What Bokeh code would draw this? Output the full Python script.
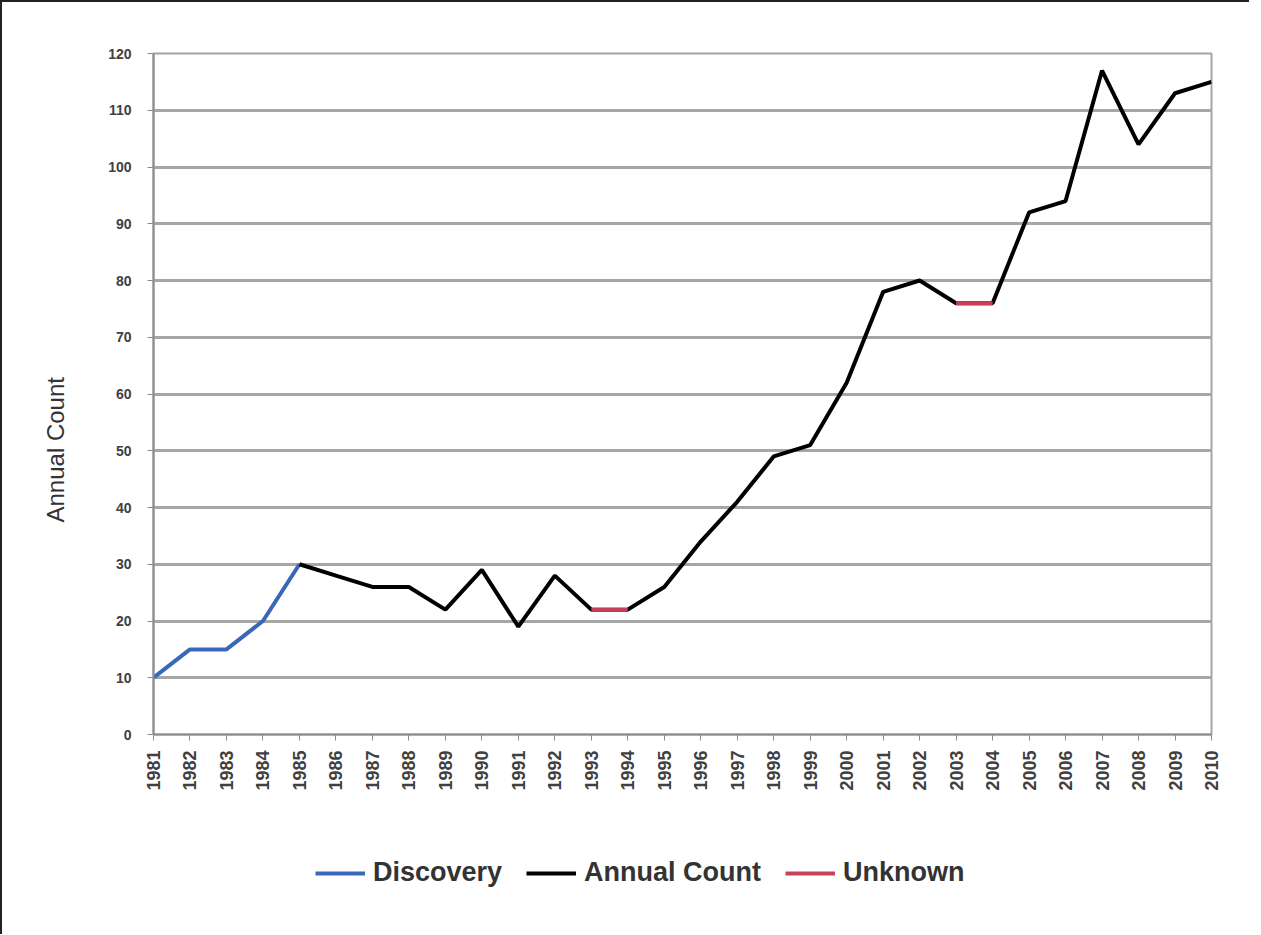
import math
from bokeh.plotting import figure
from bokeh.layouts import column
from bokeh.models import Legend, LegendItem, Range1d, FixedTicker, Title
from bokeh.embed import file_html
from bokeh.resources import INLINE

years = list(range(1981, 2011))
discovery_years = [1981, 1982, 1983, 1984, 1985]
discovery_vals = [10, 15, 15, 20, 30]
annual_years = list(range(1985, 2011))
annual_vals = [30, 28, 26, 26, 22, 29, 19, 28, 22, 22, 26, 34, 41, 49, 51, 62,
               78, 80, 76, 76, 92, 94, 117, 104, 113, 115]
unknown_a_years = [1993, 1994]
unknown_a_vals = [22, 22]
unknown_b_years = [2003, 2004]
unknown_b_vals = [76, 76]
y_ticks = list(range(0, 121, 10))
y_title = "Annual Count"
series_names = ["Discovery", "Annual Count", "Unknown"]

FONT = "Liberation Sans"
GRID = "#a6a6a6"
BLUE, BLACK, RED = "#3a68b8", "black", "#c8405a"

p = figure(frame_width=1056, frame_height=679, output_backend="svg", toolbar_location=None,
           x_range=Range1d(1981, 2010), y_range=Range1d(0, 120),
           min_border_left=148, min_border_right=40, min_border_top=51,
           min_border_bottom=80)
p.background_fill_color = "white"
p.border_fill_color = "white"
p.outline_line_color = GRID
p.outline_line_width = 2

p.xgrid.visible = False
p.ygrid.ticker = FixedTicker(ticks=y_ticks)
p.ygrid.grid_line_color = GRID
p.ygrid.grid_line_width = 3

p.yaxis.ticker = FixedTicker(ticks=y_ticks)
p.xaxis.ticker = FixedTicker(ticks=years)
for ax in (p.xaxis[0], p.yaxis[0]):
    ax.axis_line_color = "#8c8c8c"
    ax.axis_line_width = 2
    ax.major_tick_line_color = "#8c8c8c"
    ax.major_tick_in = 0
    ax.major_tick_out = 6
    ax.minor_tick_line_color = None
    ax.major_label_text_font = FONT
    ax.major_label_text_font_style = "bold"
    ax.major_label_text_color = "#404040"
p.yaxis.major_label_text_font_size = "14px"
p.xaxis.major_label_text_font_size = "18px"
p.yaxis.major_label_standoff = 16
p.xaxis.major_label_orientation = math.pi / 2
p.xaxis.major_label_standoff = 10

p.line(discovery_years, discovery_vals, line_color=BLUE, line_width=4)
p.line(annual_years, annual_vals, line_color=BLACK, line_width=4)
p.line(unknown_a_years, unknown_a_vals, line_color=RED, line_width=4)
p.line(unknown_b_years, unknown_b_vals, line_color=RED, line_width=4)

p.add_layout(Title(text=y_title, align="left", offset=212, standoff=74,
                   text_font=FONT, text_font_size="24px", text_font_style="normal",
                   text_color="#333333"), "left")
p.styles = {"border-top": "2px solid #222", "border-left": "2px solid #222"}

# legend strip below the chart (series drawn out of view, only the legend shows)
p2 = figure(width=1245, height=122, output_backend="svg", toolbar_location=None,
            x_range=Range1d(5000, 5001), y_range=Range1d(5000, 5001),
            min_border=0, x_axis_type=None, y_axis_type=None)
p2.grid.visible = False
p2.outline_line_color = None
p2.background_fill_color = "white"
p2.border_fill_color = "white"
lr = [
    p2.line(discovery_years, discovery_vals, line_color=BLUE, line_width=4),
    p2.line(annual_years, annual_vals, line_color=BLACK, line_width=4),
    p2.line(unknown_a_years, unknown_a_vals, line_color=RED, line_width=4),
]
legend = Legend(items=[LegendItem(label=n, renderers=[r]) for n, r in zip(series_names, lr)],
                orientation="horizontal", location=(162, 46), border_line_color=None,
                background_fill_alpha=0, label_text_font=FONT, label_text_font_size="27px",
                label_text_font_style="bold", label_text_color="#333333",
                glyph_width=50, spacing=24, label_standoff=8, margin=0)
p2.add_layout(legend)
p2.styles = {"border-left": "2px solid #222"}

layout = column(p, p2, spacing=0)
open("out.html", "w").write(file_html(layout, INLINE))
